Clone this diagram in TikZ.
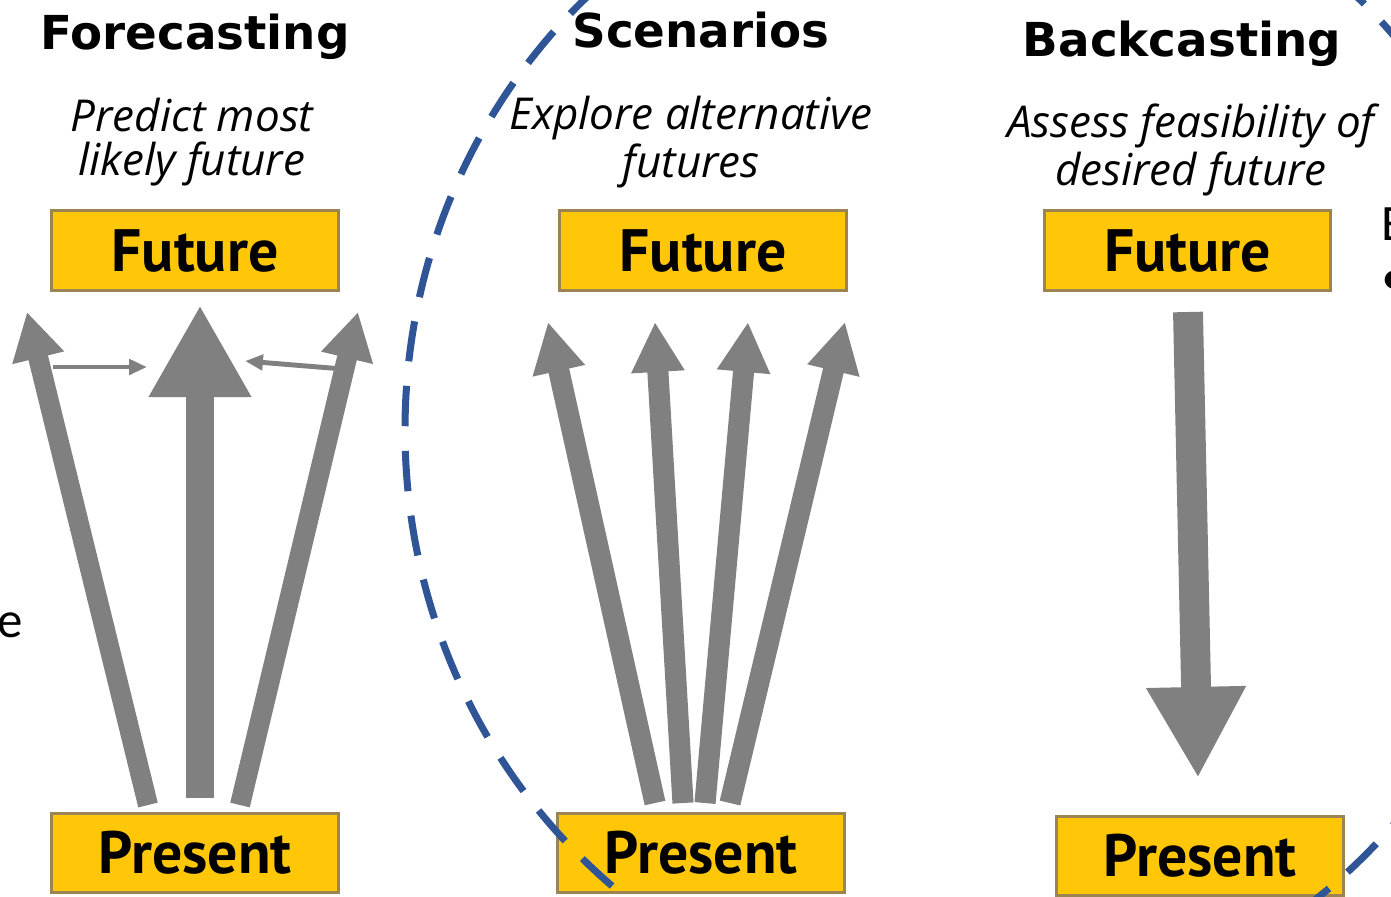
\documentclass[tikz,border=0pt]{standalone}
\usepackage{fontspec}
\setmainfont{PT Sans}
\newfontfamily\titulofont{DejaVu Sans}
\newfontfamily\lemafont{Open Sans}
\newfontfamily\restofont{Carlito}
\usetikzlibrary{arrows.meta}

\definecolor{cajaamarilla}{HTML}{FFC708}
\definecolor{bordecaja}{HTML}{9A8552}
\definecolor{flechagris}{HTML}{808080}
\definecolor{azulguiones}{HTML}{2F5597}

\tikzset{
  caja/.style={draw=bordecaja, line width=0.85pt, fill=cajaamarilla,
    minimum width=2.86cm, minimum height=0.79cm, inner sep=0pt,
    font=\bfseries\fontsize{17}{20}\selectfont},
  titulo/.style={inner sep=0pt, font=\titulofont\bfseries\fontsize{13.3}{16}\selectfont},
  lema/.style={align=center, inner sep=0pt, font=\lemafont\itshape\fontsize{12.5}{12.5}\selectfont},
  resto/.style={inner sep=0pt, font=\restofont\fontsize{14.5}{17}\selectfont},
  flechacentral/.style={color=flechagris, line width=8pt,
    -{Triangle[width=27.3pt, length=26.2pt]}},
  flechalateral/.style={color=flechagris, line width=5.7pt,
    -{Triangle[width=14.2pt, length=13.4pt]}},
  flechita/.style={color=flechagris, line width=1.4pt,
    -{Triangle[width=4.3pt, length=5.1pt]}},
  flechaescenario/.style={color=flechagris, line width=6pt,
    -{Triangle[width=14.2pt, length=14.2pt]}},
  flechaatras/.style={color=flechagris, line width=8.5pt,
    -{Triangle[width=26.5pt, length=25.9pt]}},
  guiones/.style={draw=azulguiones, line width=2pt, dash pattern=on 11.5pt off 7pt}
}

\begin{document}
\begin{tikzpicture}[x=0.01cm, y=-0.01cm]
        % Paso 1: Fija el marco de la figura
        \clip (0,0) rectangle (1391,896);
        \fill[white] (0,0) rectangle (1391,896);

        % Paso 2: Escribe los tres titulos
        \node[titulo, anchor=base] (tforecast) at (195,49) {Forecasting};
        \node[titulo, anchor=base] (tscen) at (701,47) {Scenarios};
        \node[titulo, anchor=base] (tback) at (1182,56) {Backcasting};

        % Paso 3: Escribe los lemas en cursiva
        \node[lema] (lforecast) at (192,142) {Predict most\\likely future};
        \node[lema] (lscen) at (691,142) {Explore alternative\\futures};
        \node[lema] (lback) at (1191,150) {Assess feasibility of\\desired future};

        % Paso 4: Dibuja las cajas amarillas
        \node[caja] (ffuturo) at (195,250.5) {Future};
        \node[caja] (fpresente) at (195,853) {Present};
        \node[caja] (sfuturo) at (703,250.5) {Future};
        \node[caja] (spresente) at (701,853) {Present};
        \node[caja] (bfuturo) at (1187.5,250.5) {Future};
        \node[caja] (bpresente) at (1200,856) {Present};

        % Paso 5: Flechas de Forecasting, la central y las laterales
        \coordinate (fc0) at (200,798);
        \coordinate (fc1) at (200,305);
        \coordinate (fi0) at (148,805);
        \coordinate (fi1) at (27,312);
        \coordinate (fd0) at (240,805);
        \coordinate (fd1) at (358,312);
        \draw[flechacentral] (fc0) -- (fc1);
        \draw[flechalateral] (fi0) -- (fi1);
        \draw[flechalateral] (fd0) -- (fd1);

        % Paso 6: Flechitas horizontales hacia la central
        \coordinate (fh0) at (53,367);
        \coordinate (fh1) at (147,367);
        \coordinate (fh2) at (343,369);
        \coordinate (fh3) at (245,361);
        \draw[flechita] (fh0) -- (fh1);
        \draw[flechita] (fh2) -- (fh3);

        % Paso 7: Cuatro flechas de Scenarios
        \coordinate (s10) at (655,803);
        \coordinate (s11) at (548,322);
        \coordinate (s20) at (683,803);
        \coordinate (s21) at (655,322);
        \coordinate (s30) at (705,803);
        \coordinate (s31) at (748,322);
        \coordinate (s40) at (730,803);
        \coordinate (s41) at (845,322);
        \draw[flechaescenario] (s10) -- (s11);
        \draw[flechaescenario] (s20) -- (s21);
        \draw[flechaescenario] (s30) -- (s31);
        \draw[flechaescenario] (s40) -- (s41);

        % Paso 8: Flecha de Backcasting, del futuro al presente
        \coordinate (b0) at (1188,312);
        \coordinate (b1) at (1198,778);
        \draw[flechaatras] (b0) -- (b1);

        % Paso 9: Restos de texto de la diapositiva
        \node[resto, anchor=base west] (letrae) at (-3,637) {e};
        \node[resto, anchor=base west] (letraE) at (1381,240) {E};
        \node[resto, anchor=base west] (vineta) at (1381,294) {•};

        % Paso 10: Dibuja la elipse a trazos sobre todo lo demas
        \draw[guiones] (972,430) ellipse [x radius=567, y radius=590];
\end{tikzpicture}
\end{document}
